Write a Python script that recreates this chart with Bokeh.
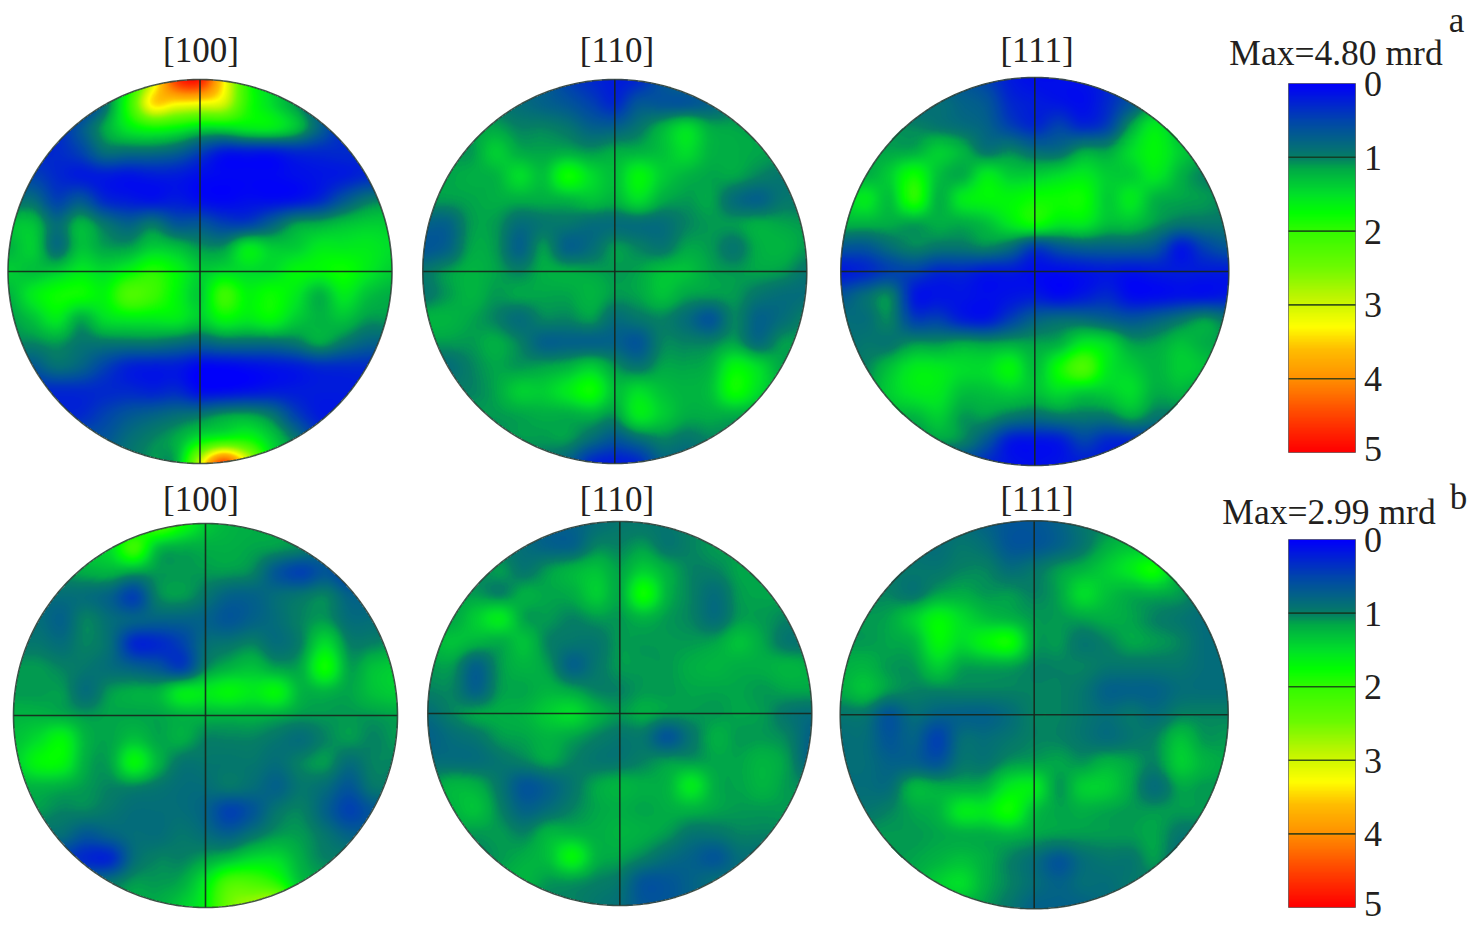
import numpy as np
from bokeh.embed import file_html
from bokeh.resources import INLINE
from bokeh.plotting import figure
from bokeh.models import LinearColorMapper
from bokeh.core.properties import value

titles = ["[100]", "[110]", "[111]"]
max_labels = ["Max=4.80 mrd", "Max=2.99 mrd"]
panel_letters = ["a", "b"]
scale_ticks = [0, 1, 2, 3, 4, 5]

# pole densities in mrd, read on a 17 x 17 grid across each disc (top row first)
a_100 = [
 [.3,.3,.3,.3,.8,1.7,3.0,4.6,4.8,3.4,2.0,1.5,1.0,.5,.3,.3,.3],
 [.3,.3,.3,.3,.7,2.0,3.4,3.3,3.2,3.0,2.0,1.6,1.0,.5,.3,.3,.3],
 [.3,.3,.3,.5,1.1,1.7,1.9,1.8,1.6,1.6,1.7,1.7,1.4,.6,.3,.3,.3],
 [.3,.3,.3,.4,.7,.7,.7,.6,.4,.2,.2,.2,.3,.3,.3,.3,.3],
 [.4,.4,.3,.2,.2,.15,.2,.2,.1,.05,.05,.05,.1,.15,.2,.3,.3],
 [.7,.7,.4,.5,.3,.2,.15,.2,.1,.05,.1,.1,.15,.3,.5,.8,.9],
 [1.4,1.4,.7,1.3,.8,.6,.8,.5,.5,.4,.4,.6,1.0,1.2,1.4,1.5,1.5],
 [1.3,1.5,.7,1.4,1.1,1.1,1.5,1.4,1.0,1.0,1.7,1.5,1.5,1.7,1.7,1.7,1.6],
 [1.5,1.4,1.5,1.7,1.6,1.8,2.0,1.8,1.5,1.6,1.6,1.6,1.8,1.8,1.9,1.7,1.5],
 [1.3,1.7,1.9,1.9,1.8,2.2,2.1,1.8,1.5,2.1,1.8,1.9,1.7,1.3,1.7,1.4,1.2],
 [1.0,1.4,1.7,1.2,1.6,1.7,1.7,1.7,1.5,1.8,1.7,1.8,1.5,1.3,1.4,1.0,1.0],
 [.9,.9,1.0,.8,.8,.8,.8,.7,.6,.7,.7,.7,.8,1.1,.8,.6,.6],
 [.5,.5,.7,.6,.4,.25,.2,.2,.05,.05,.1,.15,.2,.3,.3,.3,.3],
 [.3,.3,.3,.3,.3,.3,.25,.3,.1,.1,.15,.2,.2,.2,.2,.2,.2],
 [.3,.3,.3,.3,.4,.5,.6,.7,.8,1.0,1.1,.8,.4,.2,.2,.2,.2],
 [.5,.5,.5,.5,.5,.7,.9,1.2,1.7,1.9,1.9,1.5,.8,.4,.4,.4,.4],
 [.7,.7,.7,.7,.7,.8,1.0,1.3,3.0,4.5,3.2,1.7,1.0,.6,.6,.6,.6],
]
a_110 = [
 [.7,.7,.7,.7,.7,.6,.4,.3,.2,.3,.5,.7,.7,.7,.7,.7,.7],
 [.8,.8,.8,.8,.7,.6,.5,.4,.3,.5,.5,.5,.6,.8,.8,.8,.8],
 [.9,.9,1.0,1.1,.9,.9,.8,.6,.6,.8,1.3,1.6,1.2,1.1,1.0,.9,.9],
 [1.0,1.0,1.0,1.5,1.2,1.1,1.2,1.0,1.2,1.3,1.4,1.6,1.3,1.2,1.1,1.0,1.0],
 [1.1,1.1,1.2,1.3,1.6,1.4,1.9,1.6,1.4,1.8,1.5,1.3,1.1,1.1,.9,.8,.8],
 [1.0,1.0,1.1,1.2,1.2,1.2,1.3,1.4,1.3,1.6,1.2,1.0,1.1,.7,.6,.8,.8],
 [.6,.6,1.0,1.0,.7,.8,.8,.7,.7,.7,.7,.9,1.0,1.0,1.2,1.1,1.0],
 [.5,.6,1.1,1.0,.6,1.0,.6,.7,1.0,.9,.8,1.1,1.0,.8,1.2,1.3,1.0],
 [.8,1.0,1.3,1.1,.9,1.2,1.2,1.1,1.0,1.1,1.4,1.4,1.1,1.0,1.1,1.0,.8],
 [.8,1.0,1.3,1.0,1.1,1.1,1.1,1.3,1.0,1.1,1.4,1.1,1.0,1.0,.8,.7,.7],
 [1.3,1.3,1.1,.9,.7,.9,.9,1.0,.7,.8,.9,.7,.5,.9,.6,.7,.9],
 [1.0,1.0,1.0,1.2,.9,.6,.6,.6,.6,.5,.9,.9,.9,1.1,.7,1.0,1.0],
 [.7,.7,.9,1.1,1.0,1.1,1.3,1.5,1.0,.8,1.1,1.1,1.3,1.8,1.6,1.1,1.1],
 [.9,.9,.9,1.1,1.5,1.5,1.7,1.9,1.4,1.6,1.4,1.3,1.4,1.9,1.6,1.2,1.2],
 [1.0,1.0,1.0,1.0,1.1,1.2,1.2,1.3,1.0,1.7,1.5,1.2,1.2,1.2,1.1,1.1,1.1],
 [.9,.9,.9,.9,1.0,1.0,1.0,.7,.5,.7,.9,.8,.9,.9,.9,.9,.9],
 [.7,.7,.7,.7,.8,.8,.6,.3,.2,.3,.6,.6,.7,.7,.7,.7,.7],
]
a_111 = [
 [.3,.3,.3,.5,.5,.5,.4,.2,.1,.1,.15,.3,.6,1.0,1.0,1.0,1.0],
 [.5,.5,.5,.6,.7,.6,.5,.3,.2,.15,.1,.3,.5,1.0,1.0,1.0,1.0],
 [.8,.8,.9,.9,.8,.7,.6,.4,.3,.4,.3,.4,1.1,1.7,1.2,1.0,1.0],
 [1.1,1.1,1.1,1.2,1.5,1.3,.8,.9,.7,.7,1.1,1.1,1.6,1.8,1.5,1.2,1.2],
 [1.2,1.2,1.5,1.9,1.4,1.2,1.7,1.5,1.5,1.6,1.7,1.5,1.5,1.7,1.3,.9,.9],
 [1.5,1.7,1.4,2.0,1.3,1.7,1.8,1.8,1.9,1.9,1.9,1.5,1.7,1.3,1.1,1.0,.9],
 [1.3,1.3,1.2,1.1,1.2,1.2,1.4,1.7,1.9,1.7,1.7,1.4,1.4,1.0,.8,.8,.8],
 [.5,.5,.7,.9,.8,.8,.9,.7,.4,.5,.6,.6,.6,.5,.2,.4,.5],
 [.2,.3,.4,.4,.3,.3,.2,.2,.1,.1,.15,.2,.15,.2,.2,.2,.2],
 [.5,.7,.9,.2,.15,.15,.1,.15,.2,.1,.2,.3,.1,.1,.15,.15,.2],
 [.7,.7,.9,.4,.4,.25,.2,.4,.6,.7,.7,.6,.5,.6,.8,1.0,.8],
 [.7,.8,.8,1.0,1.0,1.2,1.1,1.2,1.1,1.3,1.7,1.6,1.1,1.1,1.4,1.2,1.0],
 [.8,.9,1.4,1.7,1.7,1.6,1.6,1.8,1.4,1.9,2.2,1.7,1.5,1.3,1.5,1.4,1.0],
 [1.0,1.0,1.5,1.7,1.7,1.4,1.4,1.5,1.4,1.6,1.5,1.5,1.6,1.2,1.3,1.0,1.0],
 [1.0,1.0,1.2,1.3,1.5,1.0,1.0,.8,.7,.8,.8,.8,1.1,.8,.8,.8,.8],
 [.8,.8,.8,.8,1.0,.9,.5,.2,.15,.2,.4,.3,.3,.4,.5,.5,.5],
 [.4,.4,.4,.4,.4,.4,.3,.15,.1,.15,.2,.2,.2,.3,.3,.3,.3],
]
b_100 = [
 [1.3,1.3,1.3,1.3,1.3,1.6,2.2,1.9,1.5,1.3,1.2,1.1,1.0,.9,.9,.9,.9],
 [1.5,1.5,1.5,1.5,1.6,2.1,1.4,1.2,1.2,1.2,1.1,1.0,.9,.7,.7,.7,.7],
 [1.0,1.0,1.0,1.2,1.3,1.1,1.0,1.0,1.0,1.0,.9,.5,.4,.5,.4,.5,.5],
 [.7,.7,.7,.7,.6,.4,.9,1.0,.8,.6,.6,.7,.8,.9,.6,.6,.6],
 [.7,.7,.6,.9,.7,.6,.6,.6,.6,.5,.6,.7,.9,1.0,.7,.7,.7],
 [.8,.8,.7,.9,.7,.3,.3,.4,.7,.8,.9,.7,.9,1.6,.9,.9,1.0],
 [1.0,1.0,.9,.8,.7,.6,.5,.4,.9,1.3,1.4,1.1,1.2,1.9,1.1,1.4,1.5],
 [1.0,1.0,1.0,.7,1.0,1.2,1.3,1.7,1.7,1.8,1.7,1.8,1.3,1.3,1.1,1.4,1.5],
 [1.3,1.3,1.2,1.0,1.1,1.1,1.1,1.3,1.3,1.3,1.3,1.2,1.0,1.0,1.0,1.0,1.1],
 [1.4,1.6,1.8,1.3,1.1,1.4,1.1,1.2,.9,.9,.9,.8,.7,.9,1.0,.9,1.0],
 [1.5,1.8,1.8,1.2,1.1,1.8,1.3,.8,.8,.8,.8,.7,.9,1.0,.7,.9,.9],
 [1.2,1.3,1.2,1.0,.9,.9,.8,.7,.7,.8,.7,.6,.8,.7,.5,.8,.8],
 [1.0,1.0,.9,.9,.8,.7,.7,.7,.6,.4,.5,.8,.9,.6,.4,.5,.5],
 [.7,.7,.7,.5,.6,.7,.7,.8,.7,.6,.8,1.0,1.0,.8,.6,.6,.6],
 [.4,.4,.4,.3,.3,.7,.9,.9,1.1,1.4,1.6,1.6,1.2,.9,.9,.9,.9],
 [.7,.7,.7,.7,.8,1.0,1.0,1.2,1.7,2.2,2.2,2.0,1.4,1.2,1.2,1.2,1.2],
 [1.0,1.0,1.0,1.0,1.0,1.2,1.2,1.5,1.8,2.5,2.8,3.0,1.7,1.5,1.5,1.5,1.5],
]
b_110 = [
 [.7,.7,.7,.7,.7,.6,.6,.7,.8,.8,.8,.9,.9,.9,.9,.9,.9],
 [.7,.7,.8,.8,.7,.6,.6,.9,.9,1.0,.8,.9,1.0,1.0,1.0,1.0,1.0],
 [.9,.9,.9,1.0,.8,1.0,1.3,1.4,1.1,1.5,1.2,.9,.9,1.1,1.1,1.1,1.1],
 [1.0,1.0,1.0,.9,1.2,1.1,1.2,1.5,1.2,1.9,1.3,.9,.7,1.0,1.1,1.1,1.1],
 [1.1,1.1,1.5,1.7,1.1,1.0,.9,1.0,1.0,1.3,1.0,.9,.7,1.0,1.0,.9,.9],
 [1.3,1.4,1.3,1.2,1.4,.9,.8,.8,1.0,1.0,1.0,1.0,1.1,1.4,1.1,.8,.8],
 [1.0,1.0,.6,1.0,1.3,1.0,.6,.8,1.0,1.0,1.0,1.2,1.3,1.2,1.2,1.3,1.2],
 [.9,.9,.6,1.0,1.1,1.3,1.1,.9,.9,1.0,1.0,1.1,1.1,1.1,1.0,1.1,1.1],
 [.7,.9,1.1,1.2,1.3,1.5,1.6,1.3,1.0,1.2,1.0,1.0,1.0,1.1,1.0,.8,.7],
 [.6,.7,.8,1.0,1.1,1.3,1.1,.9,.8,.8,.5,.8,1.2,1.0,1.0,.9,.6],
 [.7,.7,.7,.8,.9,1.1,.9,.8,.8,.9,1.0,1.0,1.1,1.1,1.3,1.0,.6],
 [1.0,1.3,1.2,.8,.5,.6,.8,1.1,1.3,1.2,1.3,1.7,1.2,1.1,1.3,1.0,.9],
 [1.1,1.3,1.4,.9,.6,.7,.9,1.1,1.2,1.1,1.2,1.3,1.1,1.0,1.0,1.0,1.0],
 [1.0,1.0,1.0,1.0,.9,1.3,1.3,1.2,1.3,1.2,1.0,.8,.8,.9,.9,.9,.9],
 [.9,.9,.9,1.0,1.2,1.4,1.8,1.3,1.1,.9,.7,.6,.5,.7,.7,.7,.7],
 [1.0,1.0,1.0,1.1,1.3,1.0,1.0,.9,.8,.5,.5,.6,.7,.7,.7,.7,.7],
 [.9,.9,.9,.9,.9,.9,.9,.8,.7,.5,.5,.6,.6,.6,.6,.6,.6],
]
b_111 = [
 [.6,.6,.6,.6,.7,.7,.6,.5,.5,.6,.8,.9,.9,.9,.9,.9,.9],
 [.7,.7,.7,.7,.7,.8,.7,.5,.5,.6,.8,1.2,1.4,1.2,1.0,1.0,1.0],
 [.8,.8,.8,.8,.8,.9,.9,.7,.8,1.0,1.3,1.5,1.7,1.9,1.2,1.0,1.0],
 [.9,.9,.9,.8,1.1,1.2,1.0,1.0,.9,1.1,1.6,1.4,1.2,1.2,1.0,.8,.8],
 [1.0,1.0,1.1,1.5,1.8,1.6,1.4,1.3,1.0,1.0,1.1,1.2,1.1,.9,.8,.7,.7],
 [1.0,1.0,1.1,1.3,1.8,1.6,1.8,1.9,1.1,1.0,.8,.9,1.1,1.0,.9,.7,.7],
 [1.2,1.3,1.0,1.0,1.5,1.1,1.1,1.1,.9,.9,.9,.8,.8,.8,.8,.7,.7],
 [1.2,1.4,1.0,.9,.9,.9,.9,.9,.9,.9,.8,.6,.6,.6,.7,.7,.7],
 [.8,.8,.5,.7,.6,.6,.6,.7,.9,.9,.8,.7,.8,.7,.9,.9,.9],
 [.7,.7,.5,.6,.4,.7,.7,.8,.9,.9,.8,.7,.8,.9,1.4,1.0,1.0],
 [.7,.7,.6,.6,.5,.8,.8,1.0,1.1,1.1,1.0,1.3,1.1,.9,1.5,1.3,1.1],
 [.7,.7,.7,1.3,1.2,1.2,1.3,1.7,1.7,1.0,1.5,1.5,1.1,.7,1.1,1.0,1.0],
 [.8,.8,.9,1.1,1.3,1.7,1.7,1.9,1.4,1.1,1.2,1.1,1.0,1.0,1.0,1.0,1.0],
 [1.0,1.0,1.0,1.0,1.1,1.2,1.2,1.3,1.1,1.0,1.0,1.0,1.0,1.1,.8,.8,.8],
 [1.0,1.0,1.0,1.1,1.3,1.4,1.2,.9,.7,.5,.7,.8,.8,1.0,.7,.7,.7],
 [1.2,1.2,1.2,1.2,1.5,1.6,1.2,.9,.7,.6,.7,.7,.8,.8,.8,.8,.8],
 [1.0,1.0,1.0,1.0,1.1,1.2,1.0,.8,.6,.6,.6,.7,.7,.7,.7,.7,.7],
]

# My readings of the mid greens ran high and of the blue-teals low: correction curve
read_vals = [0, .3, .5, .7, 1.0, 1.3, 1.5, 1.7, 1.9, 2.2, 5]
true_vals = [0, .3, .65, .86, 1.1, 1.22, 1.38, 1.58, 1.8, 2.2, 5]

# Colour scale: density -> RGB
stop_vals = [0, .5, 1, 1.15, 1.5, 1.75, 2, 2.5, 2.9, 3.3, 3.6, 4, 4.5, 5]
stop_rgb = [(0,0,250),(0,70,170),(5,125,100),(0,170,70),(0,225,40),(0,255,0),(50,250,0),
            (110,250,0),(190,245,0),(255,255,0),(255,190,0),(255,145,0),(255,70,0),(255,0,0)]
vs = np.linspace(0, 5, 256)
palette = ["#%02x%02x%02x" % tuple(int(round(np.interp(v, stop_vals, [c[i] for c in stop_rgb]))) for i in range(3)) for v in vs]
mapper = LinearColorMapper(palette=palette, low=0, high=5, nan_color="#00000000")

W, H = 1479, 927
def Y(py):  # page pixel row -> plot coordinate
    return 927 - py

p = figure(width=W, height=H, x_range=(0, W), y_range=(0, H),
           output_backend="svg", toolbar_location=None, min_border=0,
           x_axis_type=None, y_axis_type=None, outline_line_color=None)
p.grid.visible = False
p.background_fill_color = "white"
p.border_fill_color = "white"

def smooth(grid, n=385):
    """Catmull-Rom display smoothing of a read grid."""
    g = np.interp(np.array(grid, dtype=float), read_vals, true_vals)
    def axis(a):
        m = a.shape[0]
        t = np.linspace(0, m - 1, n)
        i = np.clip(np.floor(t).astype(int), 0, m - 2)
        f = (t - i)[:, None]
        e = np.concatenate([a[:1], a, a[-1:]], axis=0)
        p0, p1, p2, p3 = e[i], e[i + 1], e[i + 2], e[i + 3]
        return 0.5 * (2 * p1 + (p2 - p0) * f + (2 * p0 - 5 * p1 + 4 * p2 - p3) * f**2 + (3 * p1 - p0 - 3 * p2 + p3) * f**3)
    return np.clip(axis(axis(g).T).T, 0, 5)

LINE = "#16261c"
discs = [
    (a_100, 199.5, 271.0, 192), (a_110, 614.3, 271.0, 192), (a_111, 1034.3, 271.0, 194),
    (b_100, 205.0, 715.0, 192), (b_110, 619.3, 713.0, 192), (b_111, 1033.7, 714.3, 194),
]
for grid, cx, cy, r in discs:
    d = smooth(grid)
    n = d.shape[0]
    yy, xx = np.mgrid[0:n, 0:n]
    c = (n - 1) / 2
    d[(xx - c)**2 + (yy - c)**2 > (n / 2)**2] = np.nan
    p.image(image=[d[::-1]], x=cx - r, y=Y(cy + r), dw=2 * r, dh=2 * r, color_mapper=mapper)
    p.segment(x0=[cx - r, cx], y0=[Y(cy), Y(cy - r)], x1=[cx + r, cx], y1=[Y(cy), Y(cy + r)],
              line_color=LINE, line_width=1.6, line_alpha=0.9)
    t = np.linspace(0, 2 * np.pi, 361)
    p.line(cx + r * np.cos(t), Y(cy) + r * np.sin(t), line_color="#2b3d35", line_width=1.6, line_alpha=0.85)

# Colour bars
bars = [(1288, 1355, 83, 452), (1288, 1355, 539, 907)]
for x0, x1, y0, y1 in bars:
    col = np.linspace(5, 0, 369)[:, None]
    p.image(image=[col], x=x0, y=Y(y1), dw=x1 - x0, dh=y1 - y0, color_mapper=mapper)
    step = (y1 - y0) / 5
    inner = scale_ticks[1:-1]
    p.segment(x0=[x0] * len(inner), x1=[x1] * len(inner),
              y0=[Y(y0 + k * step) for k in inner], y1=[Y(y0 + k * step) for k in inner],
              line_color="#143018", line_width=1.6, line_alpha=0.8)
    p.quad(left=[x0], right=[x1], bottom=[Y(y1)], top=[Y(y0)], fill_color=None,
           line_color="#303030", line_width=1, line_alpha=0.55)
    p.text(x=[1372.5] * 6, y=[Y(y0 + 0.5 + k * step - (k == 5) * 4) for k in scale_ticks],
           text=[str(k) for k in scale_ticks], text_font=value("Liberation Serif"),
           text_font_size="36px", text_align="center", text_baseline="middle", text_color="#231f20")

# Titles
def label(x, y, s, size="35px"):
    p.text(x=[x], y=[Y(y)], text=[s], text_font=value("Liberation Serif"), text_font_size=size,
           text_align="center", text_baseline="middle", text_color="#231f20")

for x, y, s in zip([200.5, 616.5, 1036.5, 200.5, 616.5, 1036.5], [50, 50, 50, 499, 499, 499], titles * 2):
    label(x, y, s)
label(1335.5, 52, max_labels[0], "35.5px")
label(1328.5, 511.5, max_labels[1], "35.5px")
label(1456, 20, panel_letters[0])
label(1458, 497, panel_letters[1])

open("out.html", "w").write(file_html(p, INLINE))
